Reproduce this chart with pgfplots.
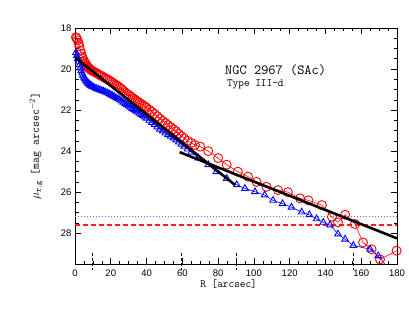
\documentclass[border=0pt]{standalone}
\usepackage{fontspec}
\setmainfont{Liberation Sans}
\usepackage{pgfplots}
\pgfplotsset{compat=1.18}
\definecolor{hred}{RGB}{255,30,30}
\definecolor{hblue}{RGB}{100,100,255}
\newcommand{\smf}[1]{\ttfamily\addfontfeatures{FakeBold=1.5}\fontsize{#1}{#1}\selectfont}
\begin{document}
\begin{tikzpicture}
\begin{axis}[
 set layers,
 scale only axis, width=322pt, height=236pt,
 xmin=0, xmax=180, ymin=18, ymax=29.5, y dir=reverse,
 xtick={0,20,...,180}, ytick={18,20,...,28},
 minor x tick num=3, minor y tick num=3,
 major tick length=6pt, minor tick length=3.5pt,
 tick style={black, line width=0.6pt},
 axis line style={line width=0.8pt},
 tick label style={font=\fontsize{9.5}{11}\selectfont},
 xticklabel style={yshift=-2pt},
 /pgf/number format/assume math mode=true,
 xlabel={\smf{11}R [arcsec]},
 xlabel style={at={(axis description cs:0.477,0)}, anchor=center, yshift=-20pt},
]
% horizontal limits
\addplot[draw=hblue, dotted, line width=1pt] coordinates {(0,27.18) (180,27.18)};
\addplot[draw=hred, solid, dash pattern=on 5pt off 3pt, line width=1.1pt] coordinates {(0,27.6) (180,27.6)};
% red profile
\addplot[color=red, line width=0.6pt, mark=o, mark size=4.5pt, mark options={line width=0.9pt}] coordinates {
(0.5,18.45) (1.0,18.5) (1.5,18.6) (2.0,18.75) (2.5,18.9) (3.0,19.1) (3.5,19.25) (4.0,19.4) (4.5,19.5) (5.0,19.6)
(5.5,19.68) (6.0,19.75) (6.5,19.82) (7.0,19.88) (7.5,19.93) (8.0,19.97) (8.5,20.01) (9.0,20.05) (9.5,20.08) (10,20.1)
(11,20.15) (12,20.2) (13,20.25) (14,20.3) (15,20.35) (16,20.4) (17,20.45) (18,20.5) (19,20.55) (20,20.6)
(21,20.66) (22,20.72) (23,20.78) (24,20.84) (25,20.9) (26,20.97) (27,21.05) (28,21.13) (29,21.2) (30,21.27)
(31,21.33) (32,21.4) (33,21.46) (34,21.52) (35,21.58) (36,21.64) (37,21.7) (38,21.76) (39,21.82) (40,21.88)
(41.5,21.98) (43,22.08) (44.5,22.18) (46,22.3) (47.5,22.42) (49,22.53) (50.5,22.63) (52,22.73) (53.5,22.83) (55,22.93)
(56.5,23.03) (58,23.15) (59.5,23.27) (61,23.37) (63,23.5) (65,23.6) (67,23.7) (70,23.78) (74.5,24.0) (80,24.34)
(84.8,24.66) (91,25.0) (96.7,25.24) (101.5,25.5) (107,25.74) (113.5,25.9) (119,26.0) (125.8,26.3) (130.5,26.4) (138,26.63)
(143.6,27.2) (147,27.47) (151,27.1) (156.5,27.55) (161,28.45) (165.8,28.78) (170.5,29.28) (179.8,28.85)
};
% blue profile
\addplot[color=blue, line width=0.6pt, mark=triangle, mark size=3.8pt, mark options={line width=0.9pt}] coordinates {
(0.5,19.2) (1.0,19.35) (1.5,19.5) (2.0,19.65) (2.5,19.8) (3.0,19.95) (3.5,20.08) (4.0,20.2) (4.5,20.3) (5.0,20.4)
(5.5,20.48) (6.0,20.55) (6.5,20.6) (7.0,20.65) (7.5,20.7) (8.0,20.74) (8.5,20.78) (9.0,20.81) (9.5,20.84) (10,20.87)
(11,20.91) (12,20.95) (13,20.98) (14,21.02) (15,21.05) (16,21.08) (17,21.12) (18,21.16) (19,21.2) (20,21.25)
(21,21.3) (22,21.35) (23,21.4) (24,21.45) (25,21.5) (26,21.56) (27,21.62) (28,21.68) (29,21.74) (30,21.8)
(31,21.86) (32,21.92) (33,21.98) (34,22.04) (35,22.1) (36,22.16) (37,22.22) (38,22.28) (39,22.34) (40,22.4)
(41.5,22.5) (43,22.6) (44.5,22.7) (46,22.82) (47.5,22.93) (49,23.02) (50.5,23.12) (52,23.2) (53.5,23.28) (55,23.36)
(56.5,23.46) (58,23.56) (59.5,23.66) (61,23.76) (63,23.9) (65,24.05) (68.9,24.34) (74.5,24.66) (79,25.0) (84.8,25.33)
(90.4,25.64) (95,25.82) (100.6,25.98) (106,26.14) (110.7,26.4) (116,26.56) (121,26.73) (126.7,26.97) (131,27.1) (135,27.3)
(138.8,27.47) (142.6,27.6) (147,28.04) (151,28.29) (155.6,28.6) (165,28.78) (169.5,29.1) (174,29.6)
};
% fits
\addplot[on layer=axis foreground, color=black, line width=2.6pt] coordinates {(0.3,19.45) (89.5,25.65)};
\addplot[on layer=axis foreground, color=black, line width=2.6pt] coordinates {(58.5,24.05) (180,28.25)};
% labels
\node[anchor=west, text=black, font=\smf{14}] at (axis cs:82,20.06) {NGC 2967 (SAc)};
\node[anchor=west, text=black, font=\smf{11}] at (axis cs:83,20.73) {Type III-d};
\coordinate (yl) at (rel axis cs:0,0.5);
\coordinate (m1a) at (axis cs:10,28.95); \coordinate (m1b) at (axis cs:10,29.8);
\coordinate (m2a) at (axis cs:59.5,28.95); \coordinate (m2b) at (axis cs:59.5,29.8);
\coordinate (m3a) at (axis cs:90,28.95); \coordinate (m3b) at (axis cs:90,29.8);
\coordinate (m4a) at (axis cs:155.5,28.95); \coordinate (m4b) at (axis cs:155.5,29.8);
\end{axis}
\node[rotate=90, anchor=center, text=black, font=\smf{11.5}] at ([xshift=-39pt]yl) {$\mu_{\mathtt{r,g}}$\ [mag arcsec$^{-2}$]};
\foreach \i in {1,2,3,4} {\draw[black, line width=1pt, dash pattern=on 3pt off 2pt] (m\i a) -- (m\i b);}
\pgfresetboundingbox
\useasboundingbox (-75pt,-52pt) rectangle (334pt,264pt);
\end{tikzpicture}
\end{document}
